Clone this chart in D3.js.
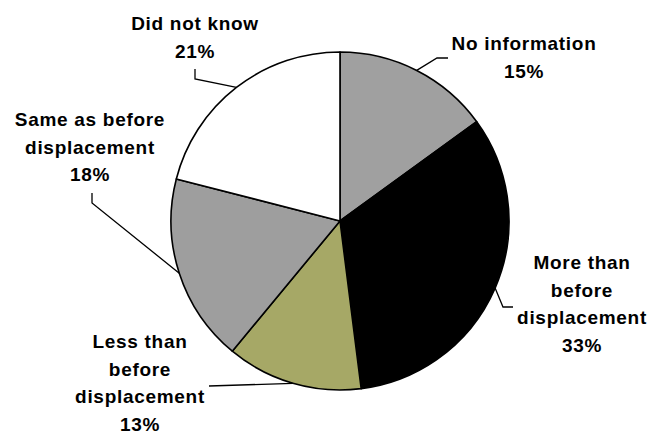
<!DOCTYPE html>
<html>
<head>
<meta charset="utf-8">
<script src="https://cdn.jsdelivr.net/npm/d3@7"></script>
<style>
  body { margin: 0; background: #fff; }
  svg { display: block; }
  .label { font-family: "Liberation Sans", Arial, sans-serif; font-weight: bold; font-size: 19px; letter-spacing: 0.7px; }
</style>
</head>
<body>
<svg id="chart" width="654" height="435"></svg>
<script>
// Data
const categories = [
  'No information',
  'More than before displacement',
  'Less than before displacement',
  'Same as before displacement',
  'Did not know'
];
const shares = [15, 33, 13, 18, 21];
const labelLines = [
  ['No information', '15%'],
  ['More than', 'before', 'displacement', '33%'],
  ['Less than', 'before', 'displacement', '13%'],
  ['Same as before', 'displacement', '18%'],
  ['Did not know', '21%']
];
const fills = ['#a0a0a0', '#000000', '#a6a866', '#9e9e9e', '#ffffff'];

// Label placement (x = text centre, y = first baseline) and leader bends.
const labelLayout = [
  { x: 524, y: 50, leader: [[437, 58], [448, 58]] },
  { x: 582, y: 269, leader: [[503, 307], [513, 307]] },
  { x: 140, y: 348, leader: [[209, 386]] },
  { x: 90, y: 126, leader: [[92, 203], [92, 193]] },
  { x: 195, y: 30, leader: [[195, 79], [195, 69]] }
];
const lineHeight = 27.7;

const svg = d3.select('#chart');
const cx = 340;
const cy = 221;
const radius = 169;

const pie = d3.pie().sort(null).value((d) => d.value);
const arcs = pie(categories.map((c, i) => ({ name: c, value: shares[i], index: i })));
const arc = d3.arc().innerRadius(0).outerRadius(radius);
const edgeArc = d3.arc().innerRadius(radius).outerRadius(radius);

const g = svg.append('g').attr('transform', `translate(${cx},${cy})`);

g.selectAll('path.slice')
  .data(arcs)
  .join('path')
  .attr('class', 'slice')
  .attr('d', arc)
  .attr('fill', (d) => fills[d.data.index])
  .attr('stroke', '#000')
  .attr('stroke-width', 1.6)
  .attr('stroke-linejoin', 'round');

// Leader lines
const line = d3.line();
svg.selectAll('path.leader')
  .data(arcs)
  .join('path')
  .attr('class', 'leader')
  .attr('d', (d) => {
    const [ex, ey] = edgeArc.centroid(d);
    const pts = [[cx + ex, cy + ey]].concat(labelLayout[d.data.index].leader);
    return line(pts);
  })
  .attr('fill', 'none')
  .attr('stroke', '#000')
  .attr('stroke-width', 1.3);

// Labels
const labels = svg.selectAll('text.label')
  .data(arcs)
  .join('text')
  .attr('class', 'label')
  .attr('text-anchor', 'middle')
  .attr('fill', '#000');

labels.selectAll('tspan')
  .data((d) => labelLines[d.data.index].map((t, k) => ({ t, k, i: d.data.index })))
  .join('tspan')
  .attr('x', (d) => labelLayout[d.i].x)
  .attr('y', (d) => labelLayout[d.i].y + d.k * lineHeight)
  .text((d) => d.t);
</script>
</body>
</html>
